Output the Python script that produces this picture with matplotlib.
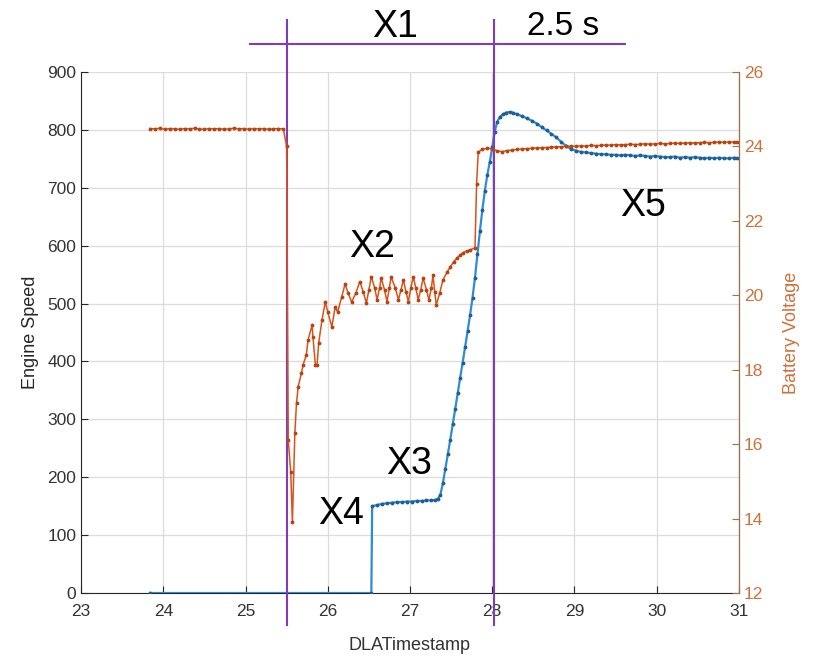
import matplotlib
matplotlib.use("Agg")
import matplotlib.pyplot as plt

plt.rcParams["font.family"] = ["Liberation Sans", "DejaVu Sans"]

# MATLAB-like colours
C_BLUE = "#2f8ccf"
C_BLUE_M = "#1f5f92"
C_ORANGE = "#D95319"
C_ORANGE_M = "#b8440f"
C_PURPLE = "#7d3cc0"
C_AX = "#262626"

# ---- Engine speed (left axis) ----
speed_t = [
    23.84, 26.53, 26.54, 26.60, 26.66, 26.72, 26.78, 26.84, 26.90, 26.96,
    27.02, 27.08, 27.14, 27.20, 27.26, 27.31, 27.34, 27.37, 27.40, 27.43,
    27.46, 27.49, 27.52, 27.55, 27.58, 27.61, 27.64, 27.67, 27.70, 27.73,
    27.76, 27.79, 27.82, 27.85, 27.88, 27.91, 27.94, 27.97, 28.00, 28.03,
    28.06, 28.09, 28.13, 28.17, 28.21, 28.25, 28.30, 28.36, 28.42, 28.48,
    28.54, 28.60, 28.66, 28.72, 28.78, 28.84, 28.90, 28.96, 29.02, 29.08,
    29.14, 29.20, 29.26, 29.32, 29.38, 29.44, 29.50, 29.56, 29.62, 29.68,
    29.74, 29.80, 29.86, 29.92, 29.98, 30.04, 30.10, 30.16, 30.22, 30.28,
    30.34, 30.40, 30.46, 30.52, 30.58, 30.64, 30.70, 30.76, 30.82, 30.88,
    30.94, 30.98,
]
speed_rpm = [
    0, 0, 150, 152, 154, 155, 156, 157, 157, 158,
    158, 159, 159, 160, 160, 161, 163, 170, 190, 215,
    240, 265, 292, 318, 345, 372, 398, 425, 452, 480,
    510, 545, 585, 625, 662, 695, 722, 745, 770, 797,
    814, 822, 827, 830, 831, 830, 827, 824, 820, 816,
    811, 805, 799, 793, 787, 779, 772, 767, 764, 762,
    761, 760, 759, 758, 758, 757, 757, 756, 757, 756,
    755, 756, 755, 754, 755, 754, 753, 753, 754, 752,
    753, 752, 753, 752, 751, 752, 751, 752, 751, 751,
    752, 751,
]

# ---- Battery voltage (right axis) ----
volt_t = [
    23.84, 23.90, 23.96, 24.02, 24.08, 24.14, 24.20, 24.26, 24.32, 24.38,
    24.44, 24.50, 24.56, 24.62, 24.68, 24.74, 24.80, 24.86, 24.92, 24.98,
    25.04, 25.10, 25.16, 25.22, 25.28, 25.34, 25.40, 25.46,
    25.50, 25.52, 25.55, 25.57, 25.60, 25.62, 25.64, 25.68, 25.70, 25.74,
    25.76, 25.81, 25.82, 25.85, 25.87, 25.89, 25.93, 25.97, 26.00, 26.05,
    26.09, 26.12, 26.17, 26.21, 26.25, 26.29, 26.34, 26.39, 26.43, 26.47,
    26.50, 26.53, 26.57, 26.60, 26.63, 26.65, 26.69, 26.72, 26.75, 26.77,
    26.82, 26.86, 26.89, 26.92, 26.95, 26.98, 27.01, 27.04, 27.07, 27.10,
    27.13, 27.16, 27.20, 27.23, 27.26, 27.28, 27.30, 27.32, 27.36, 27.40,
    27.45, 27.49, 27.53, 27.57, 27.61, 27.64, 27.69, 27.73, 27.79, 27.81,
    27.83,
    27.88, 27.94, 28.00, 28.06, 28.12, 28.18, 28.24, 28.30, 28.36, 28.42,
    28.48, 28.54, 28.60, 28.66, 28.72, 28.78, 28.84, 28.90, 28.96, 29.02,
    29.08, 29.14, 29.20, 29.26, 29.32, 29.38, 29.44, 29.50, 29.56, 29.62,
    29.68, 29.74, 29.80, 29.86, 29.92, 29.98, 30.04, 30.10, 30.16, 30.22,
    30.28, 30.34, 30.40, 30.46, 30.52, 30.58, 30.64, 30.70, 30.76, 30.82,
    30.88, 30.94, 30.98,
]
volt_v = [
    24.48, 24.47, 24.49, 24.46, 24.48, 24.47, 24.46, 24.48, 24.47, 24.49,
    24.47, 24.46, 24.48, 24.47, 24.48, 24.46, 24.47, 24.49, 24.47, 24.48,
    24.46, 24.48, 24.47, 24.48, 24.46, 24.47, 24.48, 24.47,
    24.00, 16.10, 15.25, 13.90, 16.30, 17.10, 17.54, 17.91, 18.13, 18.40,
    18.80, 19.20, 18.88, 18.13, 18.13, 18.72, 19.34, 19.82, 19.55, 19.15,
    19.69, 19.55, 19.96, 20.30, 20.05, 19.82, 20.05, 20.37, 20.10, 19.79,
    20.15, 20.50, 20.20, 19.88, 20.20, 20.46, 20.15, 19.83, 20.20, 20.50,
    20.20, 19.88, 20.15, 20.41, 20.10, 19.83, 20.20, 20.50, 20.20, 19.88,
    20.15, 20.46, 20.15, 19.88, 20.20, 20.55, 20.10, 19.74, 20.05, 20.41,
    20.62, 20.76, 20.90, 21.00, 21.08, 21.14, 21.19, 21.22, 21.27, 23.00,
    23.85,
    23.92, 23.95, 23.94, 23.88, 23.86, 23.89, 23.90, 23.92, 23.93, 23.94,
    23.95, 23.96, 23.97, 23.97, 23.98, 23.99, 23.99, 24.00, 24.01, 24.00,
    24.02, 24.01, 24.03, 24.02, 24.03, 24.04, 24.03, 24.05, 24.04, 24.05,
    24.06, 24.05, 24.06, 24.07, 24.06, 24.07, 24.08, 24.07, 24.08, 24.09,
    24.08, 24.09, 24.10, 24.09, 24.10, 24.11, 24.10, 24.11, 24.12, 24.11,
    24.12, 24.12, 24.12,
]
assert len(speed_t) == len(speed_rpm)
assert len(volt_t) == len(volt_v)

# event markers: crank start / engine running, and the bracket above
event_t = [25.50, 28.02]
bracket_t = (25.05, 29.61)
bracket_rpm = 948
labels = [
    ("X1", 26.82, 978, 27), ("2.5 s", 28.86, 978, 24),
    ("X2", 26.54, 598, 27), ("X3", 26.99, 223, 27),
    ("X4", 26.16, 136, 27), ("X5", 29.83, 668, 27),
]

fig = plt.figure(figsize=(8.2, 6.57), dpi=100)
ax = fig.add_axes([0.0988, 0.0974, 0.8024, 0.793])
ax2 = ax.twinx()

ax.plot(speed_t, speed_rpm, color=C_BLUE, lw=1.6, marker=".", ms=3.5,
        mfc=C_BLUE_M, mec=C_BLUE_M, zorder=3)
ax2.plot(volt_t, volt_v, color=C_ORANGE, lw=1.1, marker=".", ms=3.5,
         mfc=C_ORANGE_M, mec=C_ORANGE_M, zorder=3)

ax.set_xlim(23, 31)
ax.set_ylim(0, 900)
ax2.set_ylim(12, 26)
ax.set_xticks(range(23, 32))
ax.set_yticks(range(0, 901, 100))
ax2.set_yticks(range(12, 27, 2))

ax.grid(True, color="#dcdcdc", lw=0.9)
ax.set_axisbelow(True)

for a in (ax, ax2):
    a.spines["top"].set_visible(False)
ax.spines["left"].set_color(C_AX)
ax.spines["bottom"].set_color(C_AX)
ax2.spines["right"].set_color("#a0704a")
ax2.spines["left"].set_visible(False)
ax2.spines["bottom"].set_visible(False)

ax.tick_params(axis="both", direction="in", length=5, colors=C_AX,
               labelsize=12.5, labelcolor="#333333")
ax.tick_params(axis="x", pad=8)
ax2.tick_params(axis="y", direction="in", length=5, color="#a0704a",
                labelsize=12.5, labelcolor="#d0703a")

ax.set_xlabel("DLATimestamp", fontsize=13, color="#333333", labelpad=13)
ax.set_ylabel("Engine Speed", fontsize=13, color=C_AX, labelpad=6)
ax2.set_ylabel("Battery Voltage", fontsize=13, color="#d0703a",
               labelpad=14)

# purple bracket and event lines
for t in event_t:
    ax.plot([t, t], [-55, 990], color=C_PURPLE, lw=1.5, clip_on=False,
            zorder=6)
ax.plot(bracket_t, [bracket_rpm, bracket_rpm], color=C_PURPLE, lw=1.5,
        clip_on=False, zorder=6)

for txt, x, y, fs in labels:
    ax.text(x, y, txt, fontsize=fs, ha="center", va="center",
            color="black", clip_on=False, zorder=7)

fig.savefig("out.png", dpi=100)
